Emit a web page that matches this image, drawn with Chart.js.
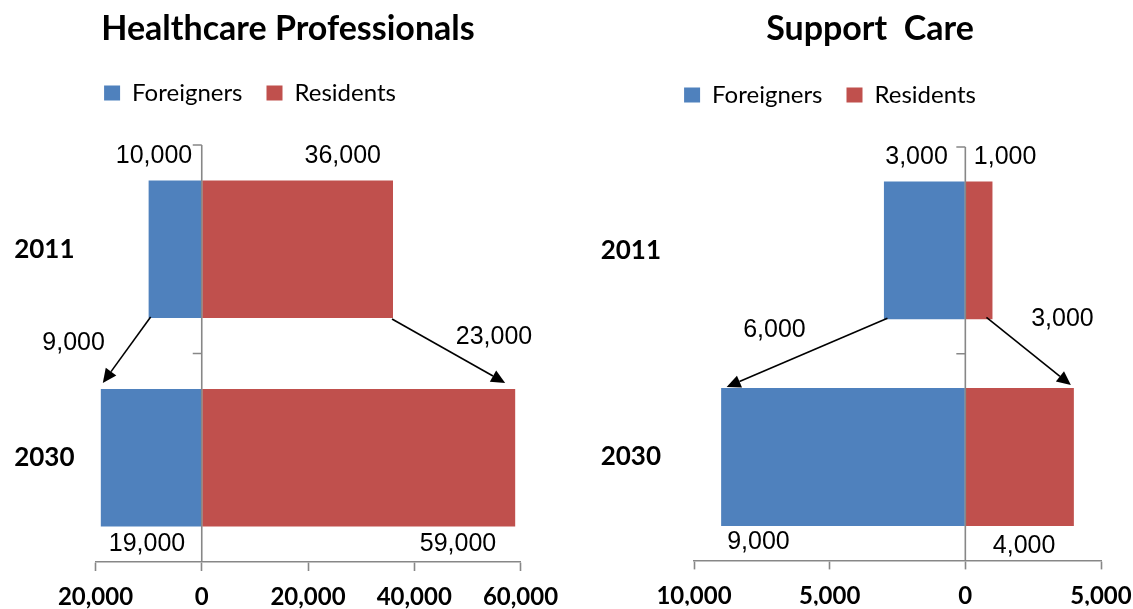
<!DOCTYPE html>
<html>
<head>
<meta charset="utf-8">
<script src="https://cdn.jsdelivr.net/npm/chart.js@4/dist/chart.umd.min.js"></script>
<style>
  html, body { margin: 0; padding: 0; background: #fff; }
  #wrap { position: relative; width: 1133px; height: 609px; overflow: hidden; }
  #wrap canvas { position: absolute; top: 0; }
</style>
</head>
<body>
<div id="wrap">
  <canvas id="hc" width="590" height="609" style="left:0"></canvas>
  <canvas id="sc" width="620" height="609" style="left:566px"></canvas>
</div>
<script>
// ---- data ----
const years = ['2011', '2030'];
const seriesNames = ['Foreigners', 'Residents'];

// Healthcare professionals (headcount)
const hcForeigners = [10000, 19000];
const hcResidents = [36000, 59000];

// Support care (headcount)
const scForeigners = [3000, 9000];
const scResidents = [1000, 4000];

// ---- styling ----
const BLUE = '#4F81BD';
const RED = '#C0504D';
const AXIS = '#878787';
const fmt = v => Math.abs(v).toLocaleString('en-US');

const TITLE_FONT = { family: 'Lato', weight: 'bold', size: 34 };
const LEGEND_FONT = { family: 'Lato', size: 24 };
const LEGEND_PAD = 24;
const XTICK_FONT = { family: 'Lato', weight: 'bold', size: 24 };
const YTICK_FONT = { family: 'Lato', weight: 'bold', size: 26 };
const LABEL_FONT = '25px "Liberation Sans", Arial, sans-serif';

const panels = [
  {
    canvas: 'hc', title: 'Healthcare Professionals',
    foreigners: hcForeigners, residents: hcResidents,
    min: -20000, max: 60000, step: 20000,
    area: { left: 95.5, right: 520.5, top: 145, bottom: 562 },
    titlePos: { x: 288, y: 29 }, legendPos: { x: 250, y: 93 },
    yLabelPad: 21, barPct: 0.66,
    valueLabels: [
      { series: 0, row: 0, from: 'base', dx: -9,  edge: 'top',    dy: -24, align: 'right' },
      { series: 1, row: 0, from: 'end',  dx: -12, edge: 'top',    dy: -24, align: 'right' },
      { series: 0, row: 1, from: 'base', dx: -16, edge: 'bottom', dy: 18,  align: 'right' },
      { series: 1, row: 1, from: 'end',  dx: -19, edge: 'bottom', dy: 18,  align: 'right' }
    ],
    arrows: [
      { series: 0, start: { dx: 2, dy: -1 },    end: { dx: 2, dy: -6 },     label: { dx: -77, dy: 26 } },
      { series: 1, start: { dx: -1, dy: 1 },    end: { dx: -10, dy: -6 },   label: { dx: 102, dy: 18 } }
    ]
  },
  {
    canvas: 'sc', title: 'Support  Care',
    foreigners: scForeigners, residents: scResidents,
    min: -10000, max: 5000, step: 5000,
    area: { left: 128, right: 535, top: 147, bottom: 564 },
    titlePos: { x: 304, y: 29 }, legendPos: { x: 264, y: 95 },
    yLabelPad: 33, barPct: 0.667,
    valueLabels: [
      { series: 0, row: 0, from: 'base', dx: -17, edge: 'top',    dy: -24, align: 'right' },
      { series: 1, row: 0, from: 'base', dx: 8,   edge: 'top',    dy: -24, align: 'left' },
      { series: 0, row: 1, from: 'end',  dx: 6,   edge: 'bottom', dy: 16,  align: 'left' },
      { series: 1, row: 1, from: 'base', dx: 27,  edge: 'bottom', dy: 20,  align: 'left' }
    ],
    arrows: [
      { series: 0, start: { dx: 3.5, dy: -1 },  end: { dx: 5.5, dy: -1 },   label: { dx: -113, dy: 12 } },
      { series: 1, start: { dx: -6, dy: -2 },   end: { dx: -3, dy: -3 },    label: { dx: 76, dy: 2 } }
    ]
  }
];

// Places the title and legend at fixed centres after layout.
const placeBlocks = {
  id: 'placeBlocks',
  afterLayout(chart, args, o) {
    const t = chart.titleBlock;
    if (t && o.title) {
      const dx = o.title.x - (t.left + t.right) / 2;
      const dy = o.title.y - (t.top + t.height / 2);
      t.left += dx; t.right += dx; t.top += dy; t.bottom += dy;
    }
    const l = chart.legend;
    if (l && o.legend) {
      const lab = l.options.labels;
      const itemH = Math.max(lab.font.size, lab.boxHeight);
      const dx = o.legend.x - (l.left + l.right) / 2;
      const dy = o.legend.y - (l.top + lab.padding + itemH / 2);
      l.left += dx; l.right += dx; l.top += dy; l.bottom += dy;
    }
  }
};

function drawArrow(ctx, x1, y1, x2, y2) {
  const ang = Math.atan2(y2 - y1, x2 - x1);
  const L = 14, W = 6.5;
  const bx = x2 - L * Math.cos(ang), by = y2 - L * Math.sin(ang);
  ctx.beginPath();
  ctx.moveTo(x1, y1);
  ctx.lineTo(bx, by);
  ctx.stroke();
  ctx.beginPath();
  ctx.moveTo(x2, y2);
  ctx.lineTo(bx + W * Math.sin(ang), by - W * Math.cos(ang));
  ctx.lineTo(bx - W * Math.sin(ang), by + W * Math.cos(ang));
  ctx.closePath();
  ctx.fill();
}

// Zero line, category tick marks, value labels and change arrows.
const annotate = {
  id: 'annotate',
  afterDatasetsDraw(chart, args, o) {
    const ctx = chart.ctx;
    const xs = chart.scales.x, ys = chart.scales.y, a = chart.chartArea;
    const x0 = xs.getPixelForValue(0);
    ctx.save();
    ctx.strokeStyle = AXIS;
    ctx.lineWidth = 1.6;
    ctx.beginPath();
    ctx.moveTo(x0, a.top);
    ctx.lineTo(x0, a.bottom);
    const n = chart.data.labels.length;
    for (let i = 0; i < n; i++) {
      const yy = ys.getPixelForValue(i - 0.5);
      ctx.moveTo(x0 - 9, yy);
      ctx.lineTo(x0, yy);
    }
    ctx.stroke();

    const bar = (s, r) => chart.getDatasetMeta(s).data[r].getProps(['x', 'base', 'y', 'height'], true);
    const value = (s, r) => chart.data.datasets[s].data[r];

    ctx.fillStyle = '#000';
    ctx.font = LABEL_FONT;
    ctx.textBaseline = 'middle';
    o.valueLabels.forEach(v => {
      const b = bar(v.series, v.row);
      const x = (v.from === 'base' ? b.base : b.x) + v.dx;
      const y = (v.edge === 'top' ? b.y - b.height / 2 : b.y + b.height / 2) + v.dy;
      ctx.textAlign = v.align;
      ctx.fillText(fmt(value(v.series, v.row)), x, y);
    });

    ctx.strokeStyle = '#000';
    ctx.lineWidth = 1.6;
    o.arrows.forEach(ar => {
      const b0 = bar(ar.series, 0), b1 = bar(ar.series, 1);
      const sx = b0.x + ar.start.dx, sy = b0.y + b0.height / 2 + ar.start.dy;
      const ex = b1.x + ar.end.dx, ey = b1.y - b1.height / 2 + ar.end.dy;
      drawArrow(ctx, sx, sy, ex, ey);
      const change = Math.abs(value(ar.series, 1)) - Math.abs(value(ar.series, 0));
      ctx.textAlign = 'center';
      ctx.fillText(fmt(change), sx + ar.label.dx, sy + ar.label.dy);
    });
    ctx.restore();
  }
};

function build(p) {
  const canvas = document.getElementById(p.canvas);
  const W = canvas.width, H = canvas.height;
  const titleH = TITLE_FONT.size * 1.2;
  const legendH = Math.max(LEGEND_FONT.size, 15) + LEGEND_PAD + 10;
  const padTop = p.area.top - titleH - legendH;

  new Chart(canvas, {
    type: 'bar',
    data: {
      labels: years,
      datasets: [
        { label: seriesNames[0], data: p.foreigners.map(v => -v), backgroundColor: BLUE, borderWidth: 0,
          barPercentage: 1, categoryPercentage: p.barPct },
        { label: seriesNames[1], data: p.residents.slice(), backgroundColor: RED, borderWidth: 0,
          barPercentage: 1, categoryPercentage: p.barPct }
      ]
    },
    options: {
      indexAxis: 'y',
      responsive: false,
      animation: false,
      events: [],
      layout: { padding: { top: padTop, left: 0, right: W - p.area.right, bottom: 0 } },
      scales: {
        x: {
          type: 'linear', stacked: true, min: p.min, max: p.max,
          ticks: { stepSize: p.step, callback: v => fmt(v), font: XTICK_FONT, color: '#000',
                   padding: 12, maxRotation: 0, autoSkip: false },
          grid: { display: true, drawOnChartArea: false, drawTicks: true, tickLength: 9,
                  tickColor: AXIS, tickWidth: 1.6 },
          border: { display: true, color: AXIS, width: 1.6 },
          afterFit(s) { s.height = H - p.area.bottom; }
        },
        y: {
          type: 'category', stacked: true,
          grid: { display: false, drawTicks: false },
          border: { display: false },
          ticks: { font: YTICK_FONT, color: '#000', padding: p.yLabelPad },
          afterFit(s) { s.width = p.area.left; }
        }
      },
      plugins: {
        title: { display: true, text: p.title, font: TITLE_FONT, color: '#000', padding: 0 },
        legend: { display: true, position: 'top',
                  labels: { boxWidth: 16, boxHeight: 15, font: LEGEND_FONT, color: '#000', padding: LEGEND_PAD } },
        tooltip: { enabled: false },
        placeBlocks: { title: p.titlePos, legend: p.legendPos },
        annotate: { valueLabels: p.valueLabels, arrows: p.arrows }
      }
    },
    plugins: [placeBlocks, annotate]
  });
}

Promise.all([
  document.fonts.load('bold 34px Lato'),
  document.fonts.load('24px Lato'),
  document.fonts.load('25px "Liberation Sans"')
]).catch(() => {}).then(() => panels.forEach(build));
</script>
</body>
</html>
